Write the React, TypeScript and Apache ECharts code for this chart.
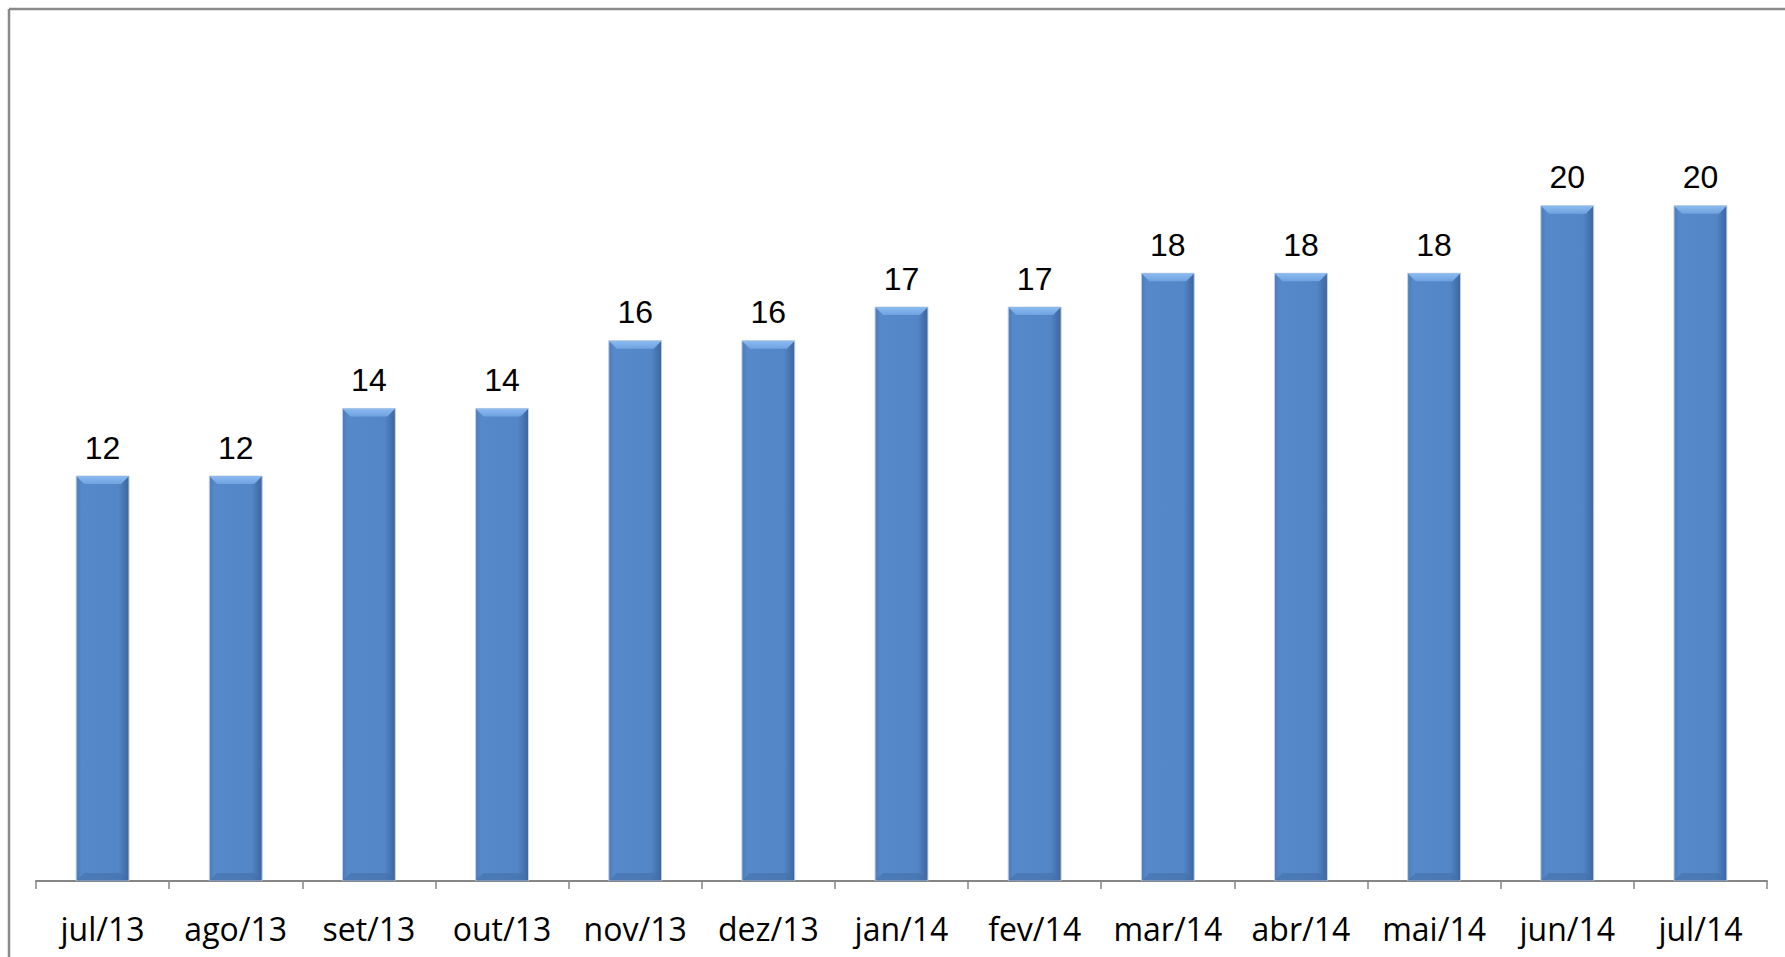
import React, { useEffect, useRef } from "react";
import * as echarts from "echarts";

const categories = ["jul/13", "ago/13", "set/13", "out/13", "nov/13", "dez/13", "jan/14", "fev/14", "mar/14", "abr/14", "mai/14", "jun/14", "jul/14"];
const values = [12, 12, 14, 14, 16, 16, 17, 17, 18, 18, 18, 20, 20];

export default function App() {
  const ref = useRef<HTMLDivElement>(null);
  useEffect(() => {
    if (!ref.current) return;
    const chart = echarts.init(ref.current, null, { renderer: "svg" });
    const bevel = 8;
    chart.setOption({
      animation: false,
      backgroundColor: "#ffffff",
      grid: { left: 36, right: 18, top: 70, bottom: 76 },
      graphic: [
        { type: "line", shape: { x1: 9, y1: 9, x2: 1785, y2: 9 }, style: { stroke: "#8a8a8a", lineWidth: 2.5 } },
        { type: "line", shape: { x1: 9, y1: 9, x2: 9, y2: 957 }, style: { stroke: "#8a8a8a", lineWidth: 2.5 } },
      ],
      xAxis: {
        type: "category",
        data: categories,
        axisLine: { lineStyle: { color: "#868686", width: 2 } },
        axisTick: { show: true, interval: 0, length: 8, lineStyle: { color: "#868686", width: 1.5 } },
        axisLabel: { interval: 0, fontFamily: "Open Sans", fontSize: 32, color: "#000", margin: 31 },
      },
      yAxis: {
        type: "value",
        min: 0,
        max: 24,
        show: false,
        splitLine: { show: false },
      },
      series: [
        {
          type: "bar",
          data: values,
          barWidth: "40.5%",
          itemStyle: {
            color: new echarts.graphic.LinearGradient(0, 0, 1, 0, [
              { offset: 0, color: "#4a7cbb" },
              { offset: 0.1, color: "#5689ca" },
              { offset: 0.8, color: "#5386c6" },
              { offset: 1, color: "#3b659f" },
            ]),
            borderColor: "#c9d3df",
            borderWidth: 1,
          },
          label: {
            show: true,
            position: "top",
            distance: 12,
            fontFamily: "Liberation Sans",
            fontSize: 32,
            color: "#000",
          },
          z: 2,
        },
        {
          type: "custom",
          data: values.map((v, i) => [i, v]),
          z: 3,
          silent: true,
          renderItem: (params: any, api: any) => {
            const top = api.coord([api.value(0), api.value(1)]);
            const base = api.coord([api.value(0), 0]);
            const w = api.size([1, 0])[0] * 0.405;
            const x0 = top[0] - w / 2 + 0.5;
            const x1 = top[0] + w / 2 - 0.5;
            const y0 = top[1] + 0.5;
            const yb = base[1];
            return {
              type: "group",
              children: [
                {
                  type: "polygon",
                  shape: { points: [[x0, y0], [x1, y0], [x1 - bevel, y0 + bevel], [x0 + bevel, y0 + bevel]] },
                  style: {
                    fill: new echarts.graphic.LinearGradient(0, 0, 0, 1, [
                      { offset: 0, color: "#8dbbf0" },
                      { offset: 1, color: "#6fa2e0" },
                    ]),
                  },
                },
                {
                  type: "polygon",
                  shape: { points: [[x0, yb], [x1, yb], [x1 - bevel, yb - bevel], [x0 + bevel, yb - bevel]] },
                  style: { fill: "#4470aa", opacity: 0.6 },
                },
              ],
            };
          },
        },
      ],
    });
    return () => chart.dispose();
  }, []);
  return <div ref={ref} style={{ position: "fixed", left: 0, top: 0, width: 1785, height: 957 }} />;
}
